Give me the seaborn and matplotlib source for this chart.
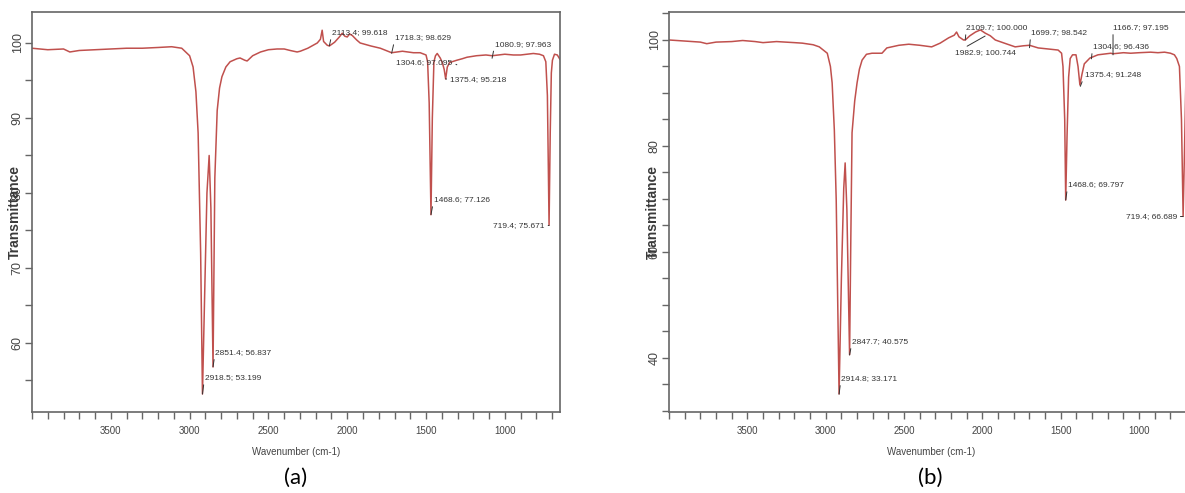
import matplotlib
matplotlib.use("Agg")
import matplotlib.pyplot as plt
from matplotlib.ticker import MultipleLocator
import seaborn as sns
import pandas as pd

# ---------------- data ----------------
A_WN = [4000, 3900, 3800, 3760, 3700, 3600, 3500, 3400, 3300, 3200, 3114, 3050, 3000,
        2978, 2960, 2946, 2930, 2918.5, 2905, 2890, 2876, 2865, 2851.4, 2840, 2825,
        2810, 2795, 2770, 2743, 2700, 2680, 2650, 2635, 2600, 2550, 2500, 2445, 2400,
        2362, 2318, 2298, 2250, 2190, 2170, 2159, 2150, 2127, 2113.4, 2080, 2050, 2032,
        2015, 2000, 1985, 1968, 1940, 1918, 1850, 1790, 1718.3, 1650, 1580, 1537, 1500,
        1490, 1480, 1468.6, 1460, 1450, 1440, 1429, 1410, 1397, 1385, 1375.4, 1365,
        1350, 1304.6, 1270, 1240, 1180, 1120, 1080.9, 1000, 946, 900, 860, 819, 780,
        755, 740, 730, 725, 719.4, 712, 705, 698, 685, 667, 650]
A_T = [99.3, 99.1, 99.2, 98.8, 99.0, 99.1, 99.2, 99.3, 99.3, 99.4, 99.5, 99.3, 98.3,
       96.8, 93.5, 88.0, 72.0, 53.2, 66.0, 80.0, 85.0, 78.0, 56.8, 82.0, 91.0,
       94.0, 95.5, 96.8, 97.5, 97.9, 98.0, 97.7, 97.6, 98.3, 98.8, 99.1, 99.2, 99.2,
       99.0, 98.8, 98.9, 99.3, 100.0, 100.5, 101.7, 100.2, 99.7, 99.6, 100.1, 100.8, 101.3,
       100.9, 100.8, 101.2, 101.0, 100.4, 100.0, 99.6, 99.3, 98.7, 98.9, 98.7, 98.7, 98.4,
       97.5, 92.0, 77.1, 90.0, 97.5, 98.3, 98.6, 98.0, 97.4, 96.5, 95.2, 96.8,
       97.4, 97.7, 97.9, 98.1, 98.3, 98.4, 98.3, 98.5, 98.4, 98.4, 98.5, 98.6, 98.5,
       98.3, 97.5, 93.0, 85.0, 75.7, 88.0, 96.0, 97.7, 98.5, 98.4, 97.8]

B_WN = [4000, 3900, 3800, 3759, 3700, 3600, 3530, 3450, 3400, 3314, 3200, 3149, 3080,
        3041, 2990, 2970, 2959, 2945, 2933, 2914.8, 2900, 2885, 2876, 2865, 2847.7,
        2840, 2832, 2815, 2800, 2785, 2768, 2740, 2705, 2641, 2610, 2533, 2470, 2400,
        2324, 2270, 2216, 2180, 2165, 2150, 2121, 2109.7, 2080, 2044, 2013, 1982.9,
        1950, 1918, 1850, 1791, 1740, 1699.7, 1644, 1580, 1517, 1495, 1486, 1475,
        1468.6, 1460, 1450, 1440, 1425, 1403, 1390, 1378, 1365, 1350, 1314, 1304.6,
        1263, 1181, 1166.7, 1100, 1054, 1000, 927, 880, 838, 800, 775, 760, 743, 730,
        719.4, 710, 700, 680, 650]
B_T = [100.0, 99.8, 99.6, 99.3, 99.6, 99.7, 99.9, 99.7, 99.5, 99.7, 99.5, 99.4, 99.1,
       98.7, 97.5, 95.0, 91.9, 83.0, 69.8, 33.2, 55.0, 72.0, 76.8, 68.0, 40.6,
       62.0, 82.5, 88.5, 91.9, 94.5, 96.2, 97.3, 97.5, 97.5, 98.5, 99.0, 99.2, 99.0,
       98.7, 99.4, 100.4, 100.9, 101.5, 100.6, 100.0, 100.0, 100.8, 101.5, 101.9, 101.3,
       100.8, 100.0, 99.3, 98.7, 98.9, 99.0, 98.5, 98.3, 98.1, 97.5, 95.0, 85.0,
       69.8, 82.0, 93.0, 96.5, 97.2, 97.2, 95.0, 91.5, 93.5, 95.5, 96.6, 96.7,
       97.2, 97.5, 97.4, 97.6, 97.5, 97.6, 97.7, 97.6, 97.7, 97.5, 97.2, 96.5, 95.0, 85.0,
       66.7, 80.0, 95.0, 97.0, 96.8]

A_PEAK_WN = [2918.5, 2851.4, 2113.4, 1718.3, 1304.6, 1375.4, 1080.9, 1468.6, 719.4]
A_PEAK_T = [53.199, 56.837, 99.618, 98.629, 97.095, 95.218, 97.963, 77.126, 75.671]
B_PEAK_WN = [2914.8, 2847.7, 2109.7, 1982.9, 1699.7, 1468.6, 1375.4, 1304.6, 1166.7, 719.4]
B_PEAK_T = [33.171, 40.575, 100.000, 100.744, 98.542, 69.797, 91.248, 96.436, 97.195, 66.689]

X_TICKS = [3500, 3000, 2500, 2000, 1500, 1000]
A_Y_TICKS = [60, 70, 80, 90, 100]
B_Y_TICKS = [40, 60, 80, 100]

# ---------------- layout / style ----------------
A_OFFSETS = [(1.5, 11.5, "left"), (1.5, 10, "left"), (2, 9.3, "left"), (2.5, 11, "left"),
             (-3, 1.4, "right"), (3, -0.7, "left"), (2, 10, "left"), (2, 10.5, "left"),
             (-3, 0, "right")]
B_OFFSETS = [(1.4, 11, "left"), (1.8, 9.4, "left"), (0.8, 8.6, "left"), (-21.6, -12.2, "left"),
             (1, 10.6, "left"), (1.5, 10.8, "left"), (3.2, 8.2, "left"), (0.9, 8.6, "left"),
             (0, 19.4, "left"), (-4.3, 0, "right")]

sns.set_theme(style="white")
plt.rcParams["font.family"] = ["Liberation Sans", "DejaVu Sans"]

LINE = "#c0504d"
SPINE = "#666666"
TXT = "#444444"

fig = plt.figure(figsize=(11.85, 4.93), dpi=100)
fig.patch.set_facecolor("white")

W, H = 1185, 493


def make_panel(left_px, width_px, ylim, wn, t, yticks, pk_wn, pk_t, offsets, ylab_px):
    ax = fig.add_axes([left_px / W, 81 / H, width_px / W, 400 / H])
    df = pd.DataFrame({"wn": wn, "T": t})
    sns.lineplot(data=df, x="wn", y="T", ax=ax, color=LINE, lw=1.1,
                 estimator=None, sort=False)
    ax.set_xlim(4000, 650)
    ax.set_ylim(*ylim)
    ax.set_xticks(X_TICKS)
    ax.xaxis.set_minor_locator(MultipleLocator(100))
    ax.set_yticks(yticks)
    ax.yaxis.set_minor_locator(MultipleLocator(5))
    ax.tick_params(axis="both", which="both", direction="out", length=5, width=1,
                   color=SPINE, bottom=True, left=True, top=False, right=False)
    ax.tick_params(axis="x", labelsize=7, labelcolor=TXT, pad=5)
    ax.tick_params(axis="y", labelsize=9, labelcolor=TXT, pad=1, labelrotation=90)
    for lab in ax.get_yticklabels():
        lab.set_va("center")
    for s in ax.spines.values():
        s.set_visible(True)
        s.set_color(SPINE)
        s.set_linewidth(1.2)
    ax.set_xlabel("Wavenumber (cm-1)", fontsize=7, color=TXT, va="center")
    ax.xaxis.set_label_coords(0.5, -40 / 400)
    ax.set_ylabel("Transmittance", fontsize=10, fontweight="bold", color="#3a3a3a",
                  va="center")
    ax.yaxis.set_label_coords(-ylab_px / width_px, 0.5)
    ax.grid(False)
    for w_, t_, (dx, dy, ha) in zip(pk_wn, pk_t, offsets):
        rel = (0.0, 0.5) if ha == "left" else (1.0, 0.5)
        ax.annotate(f"{w_:.1f}; {t_:.3f}", xy=(w_, t_), xytext=(dx, dy),
                    textcoords="offset points", ha=ha, va="center", fontsize=6,
                    color="#333333",
                    arrowprops=dict(arrowstyle="-", color="#333333", lw=0.7,
                                    relpos=rel, shrinkA=0, shrinkB=0))
    return ax


make_panel(32, 528, (50.8, 104.13), A_WN, A_T, A_Y_TICKS, A_PEAK_WN, A_PEAK_T, A_OFFSETS, 17)
make_panel(669, 525, (29.8, 105.28), B_WN, B_T, B_Y_TICKS, B_PEAK_WN, B_PEAK_T, B_OFFSETS, 16)

fig.text(296 / W, 1 - 478 / H, "(a)", ha="center", va="center", fontsize=16,
         family=["Lato", "DejaVu Sans"], color="black")
fig.text(930 / W, 1 - 478 / H, "(b)", ha="center", va="center", fontsize=16,
         family=["Lato", "DejaVu Sans"], color="black")

fig.savefig("out.png", dpi=100, facecolor="white")
